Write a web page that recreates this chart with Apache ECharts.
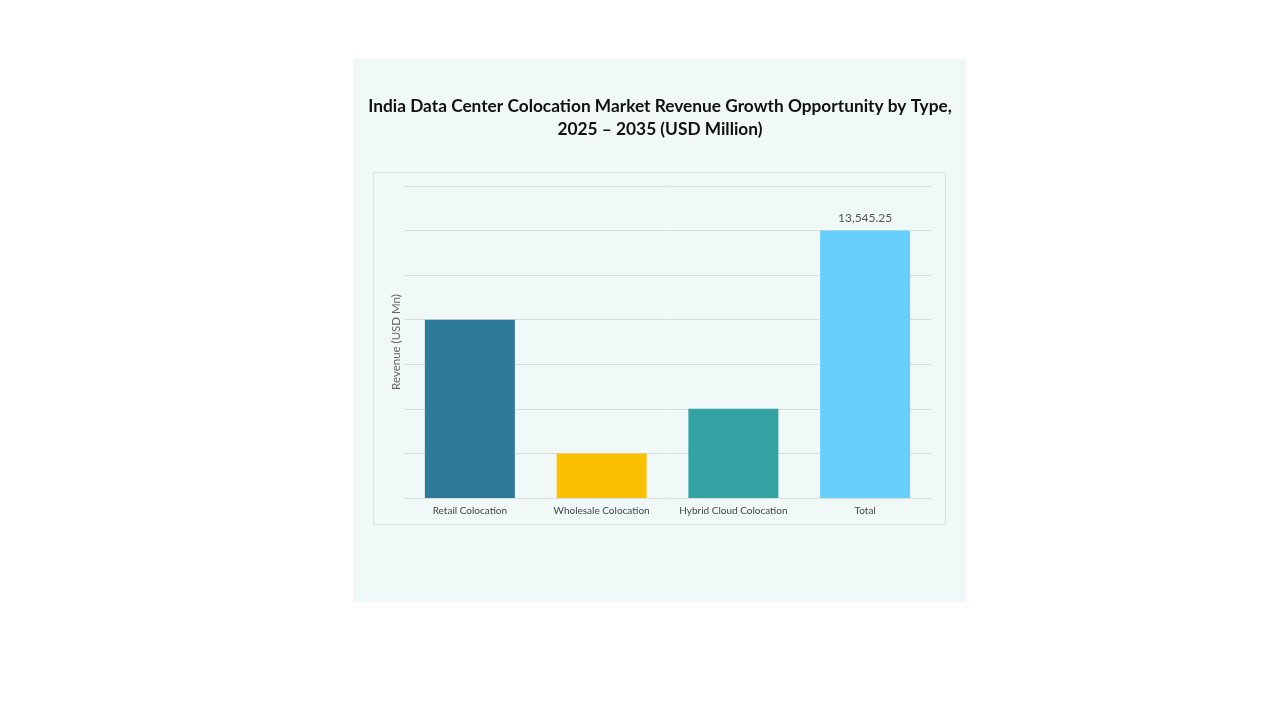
<!DOCTYPE html>
<html><head><meta charset="utf-8">
<script src="https://cdn.jsdelivr.net/npm/echarts@6/dist/echarts.min.js"></script>
<style>html,body{margin:0;padding:0;background:#fff}#c{width:1280px;height:720px}</style>
</head><body><div id="c"></div>
<script>
const categories = ["Retail Colocation", "Wholesale Colocation", "Hybrid Cloud Colocation", "Total"];
const values = [9030, 2258, 4515, 13545.25];
const colors = ["#2e7b99", "#fdc000", "#33a3a3", "#66cffc"];
const totalValue = 13545.25;
const step = totalValue / 6;

const chart = echarts.init(document.getElementById('c'));
chart.setOption({
  backgroundColor: '#ffffff',
  graphic: [
    {type: 'rect', z: -10, shape: {x: 353, y: 59, width: 613, height: 543}, style: {fill: '#f1f8f8'}},
    {type: 'rect', z: -9, shape: {x: 373.5, y: 172.5, width: 572, height: 352}, style: {fill: 'none', stroke: '#d8e2e2', lineWidth: 1}}
  ],
  title: {
    text: 'India Data Center Colocation Market Revenue Growth Opportunity by Type,\n2025 \u2013 2035 (USD Million)',
    left: 655, top: 90, textAlign: 'center',
    textStyle: {fontFamily: 'Lato', fontWeight: 'bold', fontSize: 17.3, color: '#111', lineHeight: 23}
  },
  grid: {left: 404, right: 349, top: 186, bottom: 222, containLabel: false},
  xAxis: {
    type: 'category', data: categories,
    axisLine: {lineStyle: {color: '#d5dede'}}, axisTick: {show: false},
    axisLabel: {color: '#444', fontSize: 10, fontFamily: 'Lato', margin: 8, interval: 0}
  },
  yAxis: {
    type: 'value', min: 0, max: step * 7, interval: step,
    name: 'Revenue (USD Mn)', nameLocation: 'middle', nameGap: 2,
    nameTextStyle: {color: '#666', fontSize: 11.5, fontFamily: 'Lato'},
    axisLabel: {show: false}, axisLine: {show: false}, axisTick: {show: false},
    splitLine: {lineStyle: {color: '#d5dede'}}
  },
  series: [{
    type: 'bar', barWidth: 90,
    data: values.map((v, i) => ({value: v, itemStyle: {color: colors[i]},
      label: {show: i === 3}})),
    label: {position: 'top', distance: 6, color: '#555', fontSize: 12, fontFamily: 'Lato',
      formatter: p => p.value.toLocaleString('en-US', {minimumFractionDigits: 2})}
  }]
});
</script></body></html>
